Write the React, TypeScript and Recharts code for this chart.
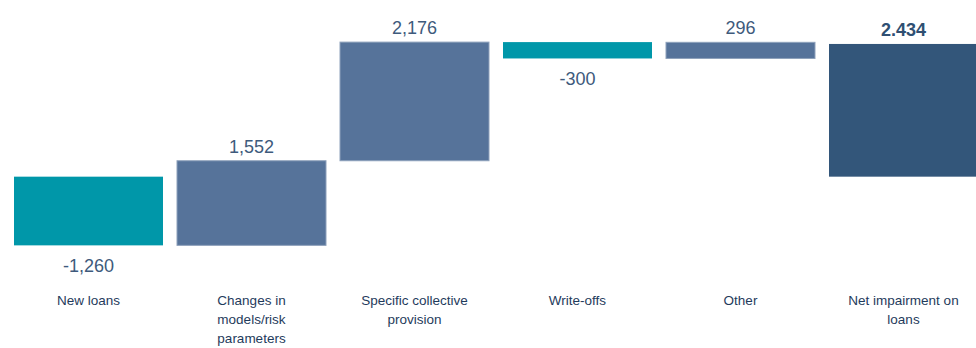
import React from 'react'
import { BarChart, Bar, XAxis, YAxis } from 'recharts'

const categories = [
  'New loans',
  'Changes in\nmodels/risk\nparameters',
  'Specific collective\nprovision',
  'Write-offs',
  'Other',
  'Net impairment on\nloans',
]
const changes = [-1260, 1552, 2176, -300, 296]
const netTotal = 2434
const valueLabels = ['-1,260', '1,552', '2,176', '-300', '296', '2.434']

const TEAL = '#0097A9'
const SLATE = '#56739A'
const NAVY = '#33567A'
const FONT = '"Liberation Sans", Arial, sans-serif'

// build waterfall ranges [low, high]
let running = 0
const data = categories.map((name, i) => {
  if (i < changes.length) {
    const start = running
    running += changes[i]
    return {
      name,
      range: [Math.min(start, running), Math.max(start, running)],
      negative: changes[i] < 0,
      total: false,
      label: valueLabels[i],
    }
  }
  return { name, range: [0, netTotal], negative: false, total: true, label: valueLabels[i] }
})

const BarShape = (props: any) => {
  const { x, y, width, height, payload } = props
  const fill = payload.total ? NAVY : payload.negative ? TEAL : SLATE
  const stroke = payload.total || payload.negative ? 'none' : '#8ea1bb'
  const ly = payload.negative ? y + height + 21 : y - 14
  return (
    <g>
      <rect x={x} y={y} width={width} height={height} fill={fill} stroke={stroke} strokeWidth={1} />
      <text
        x={x + width / 2}
        y={ly}
        textAnchor="middle"
        dominantBaseline="central"
        fontFamily={FONT}
        fontSize={18}
        fontWeight={payload.total ? 'bold' : 'normal'}
        fill={payload.total ? '#2f4f72' : '#3e5a7c'}
      >
        {payload.label}
      </text>
    </g>
  )
}

const CategoryTick = (props: any) => {
  const { x, y, payload } = props
  const lines = String(payload.value).split('\n')
  return (
    <text x={x} y={y + 44} textAnchor="middle" fontFamily={FONT} fontSize={13.5} fill="#1f3b5c">
      {lines.map((line, i) => (
        <tspan key={i} x={x} dy={i === 0 ? 0 : 19}>
          {line}
        </tspan>
      ))}
    </text>
  )
}

export default function App() {
  return (
    <div style={{ position: 'absolute', left: 0, top: 0, width: 976, height: 348, overflow: 'hidden', background: '#fff' }}>
      <BarChart
        width={985}
        height={348}
        data={data}
        margin={{ top: 24, right: 0, left: 7, bottom: 0 }}
        barCategoryGap={7}
      >
        <XAxis
          dataKey="name"
          axisLine={false}
          tickLine={false}
          interval={0}
          height={95}
          tick={<CategoryTick />}
        />
        <YAxis hide domain={[-1400, 2800]} />
        <Bar dataKey="range" shape={<BarShape />} isAnimationActive={false} />
      </BarChart>
    </div>
  )
}
